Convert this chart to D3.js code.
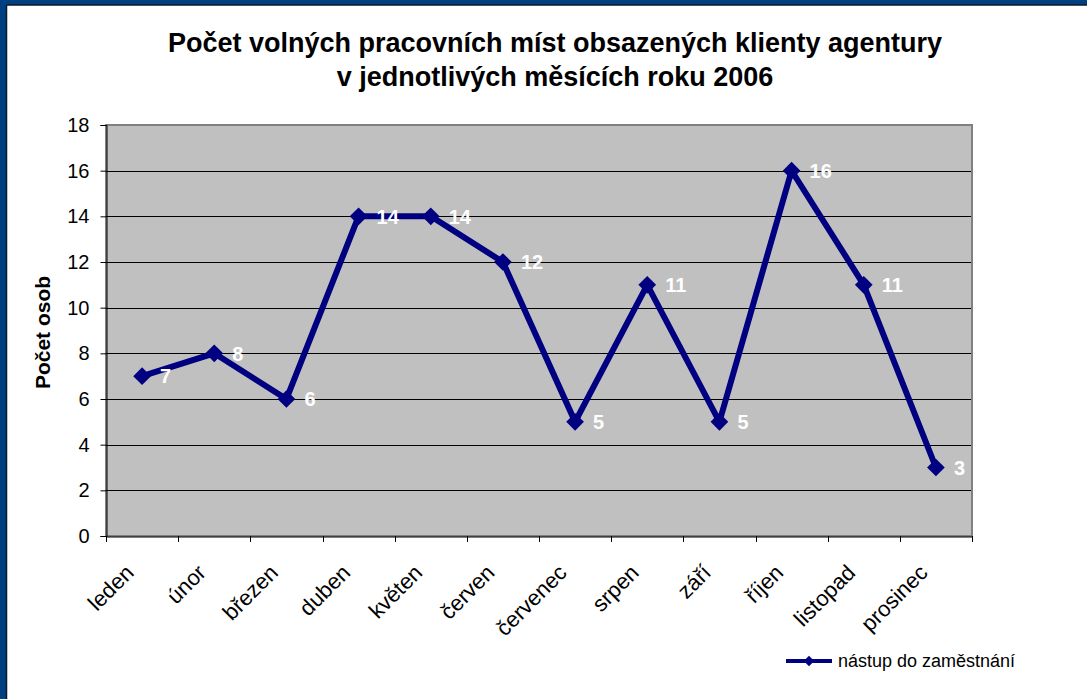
<!DOCTYPE html>
<html>
<head>
<meta charset="utf-8">
<title>Počet volných pracovních míst</title>
<style>
	body { margin: 0; background: #fff; font-family: Arial, 'Liberation Sans', sans-serif; }
	.grid line { stroke: #000; stroke-width: 1px; }
	.tick text { fill: #000; }
</style>
</head>
<body>
<script src="https://d3js.org/d3.v7.min.js"></script>
<script>
// data
var months = ["leden", "únor", "březen", "duben", "květen", "červen", "červenec", "srpen", "září", "říjen", "listopad", "prosinec"];
var values = [7, 8, 6, 14, 14, 12, 5, 11, 5, 16, 11, 3];
var yTicks = [0, 2, 4, 6, 8, 10, 12, 14, 16, 18];
var seriesName = "nástup do zaměstnání";

var width = 1087, height = 699;
var plot = { left: 106, top: 125, right: 972, bottom: 536 };
var font = "Arial, 'Liberation Sans', sans-serif";

var svg = d3.select("body").append("svg")
	.attr("width", width)
	.attr("height", height)
	.style("font-family", font);

// frame (top + left blue border)
svg.append("rect").attr("x", 0).attr("y", 0).attr("width", width).attr("height", 5).attr("fill", "#004080");
svg.append("rect").attr("x", 0).attr("y", 0).attr("width", 6).attr("height", height).attr("fill", "#004080");
svg.append("line").attr("x1", 6.5).attr("x2", width).attr("y1", 5).attr("y2", 5).attr("stroke", "#0a1a2a").attr("stroke-width", 1.5);
svg.append("line").attr("x1", 6.5).attr("x2", 6.5).attr("y1", 5).attr("y2", height).attr("stroke", "#0a1a2a").attr("stroke-width", 1.5);

var x = d3.scaleBand().domain(months).range([plot.left, plot.right]);
var y = d3.scaleLinear().domain([0, 18]).range([plot.bottom, plot.top]);

// plot area
svg.append("rect")
	.attr("x", plot.left).attr("y", plot.top)
	.attr("width", plot.right - plot.left).attr("height", plot.bottom - plot.top)
	.attr("fill", "#c0c0c0")
	.attr("stroke", "#808080").attr("stroke-width", 2);

// grid lines
svg.append("g").attr("class", "grid")
	.selectAll("line")
	.data(yTicks.filter(function(d) { return d > 0 && d < 18; }))
	.enter().append("line")
	.attr("x1", plot.left).attr("x2", plot.right - 1)
	.attr("y1", function(d) { return Math.round(y(d)) + 0.5; })
	.attr("y2", function(d) { return Math.round(y(d)) + 0.5; });

// y axis
var yAxis = svg.append("g")
	.attr("transform", "translate(" + (plot.left + 0.5) + ",0)")
	.call(d3.axisLeft(y).tickValues(yTicks).tickSize(6).tickPadding(11));
yAxis.attr("font-family", null).attr("font-size", null);
yAxis.selectAll("text").style("font-size", "20px");
yAxis.selectAll("line, path").attr("stroke", "#000");

// x axis
var xAxis = svg.append("g")
	.attr("transform", "translate(0," + (plot.bottom + 0.5) + ")")
	.call(d3.axisBottom(x).tickSize(0).tickFormat(""));
xAxis.select(".domain").attr("stroke", "#000");
xAxis.selectAll(".tick").remove();

var bounds = months.map(function(m) { return x(m); }).concat([plot.right]);
svg.append("g").selectAll("line")
	.data(bounds)
	.enter().append("line")
	.attr("x1", function(d) { return Math.round(d) + 0.5; })
	.attr("x2", function(d) { return Math.round(d) + 0.5; })
	.attr("y1", plot.bottom).attr("y2", plot.bottom + 6)
	.attr("stroke", "#000");

svg.append("g").selectAll("text")
	.data(months)
	.enter().append("text")
	.attr("transform", function(d) {
		return "translate(" + (x(d) + x.bandwidth() / 2 - 7) + "," + (plot.bottom + 38) + ") rotate(-45)";
	})
	.attr("text-anchor", "end")
	.style("font-size", "22px")
	.text(function(d) { return d; });

// line
var line = d3.line()
	.x(function(d, i) { return x(months[i]) + x.bandwidth() / 2; })
	.y(function(d) { return y(d); });

svg.append("path")
	.datum(values)
	.attr("d", line)
	.attr("fill", "none")
	.attr("stroke", "#000080")
	.attr("stroke-width", 6)
	.attr("stroke-linejoin", "miter");

var diamond = d3.symbol().type(d3.symbolDiamond2).size(200);
svg.append("g").selectAll("path")
	.data(values)
	.enter().append("path")
	.attr("d", diamond)
	.attr("transform", function(d, i) { return "translate(" + (x(months[i]) + x.bandwidth() / 2) + "," + y(d) + ")"; })
	.attr("fill", "#000080");

// data labels
svg.append("g").selectAll("text")
	.data(values)
	.enter().append("text")
	.attr("x", function(d, i) { return x(months[i]) + x.bandwidth() / 2 + 18; })
	.attr("y", function(d) { return y(d); })
	.attr("dy", "0.36em")
	.attr("fill", "#fff")
	.style("font-size", "20px")
	.style("font-weight", "bold")
	.text(function(d) { return d; });

// title
var title = svg.append("text")
	.attr("text-anchor", "middle")
	.style("font-size", "27px")
	.style("font-weight", "bold");
title.append("tspan").attr("x", 555).attr("y", 52).text("Počet volných pracovních míst obsazených klienty agentury");
title.append("tspan").attr("x", 555).attr("y", 86).text("v jednotlivých měsících roku 2006");

// y axis title
svg.append("text")
	.attr("transform", "translate(50," + ((plot.top + plot.bottom) / 2 + 2) + ") rotate(-90)")
	.attr("text-anchor", "middle")
	.style("font-size", "21px")
	.style("font-weight", "bold")
	.text("Počet osob");

// legend
var lg = svg.append("g").attr("transform", "translate(786,661)");
lg.append("line").attr("x1", 0).attr("x2", 46).attr("y1", 0).attr("y2", 0)
	.attr("stroke", "#000080").attr("stroke-width", 4);
lg.append("path").attr("d", d3.symbol().type(d3.symbolDiamond2).size(70))
	.attr("transform", "translate(23,0)").attr("fill", "#000080");
lg.append("text").attr("x", 52).attr("y", 0).attr("dy", "0.35em")
	.style("font-size", "18px").text(seriesName);
</script>
</body>
</html>
